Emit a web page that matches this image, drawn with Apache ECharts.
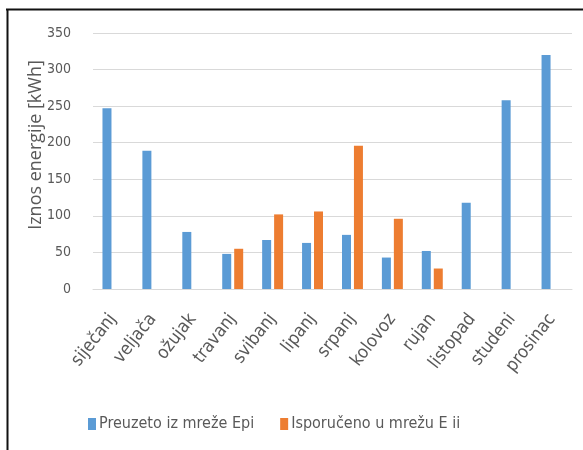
<!DOCTYPE html>
<html>
<head>
<meta charset="utf-8">
<script src="https://cdn.jsdelivr.net/npm/echarts@6/dist/echarts.min.js"></script>
<style>
  html, body { margin: 0; padding: 0; background: #fff; }
  #chart { width: 583px; height: 450px; }
</style>
</head>
<body>
<div id="chart"></div>
<script>
// Monthly energy exchange with the grid, kWh
const months = ['siječanj', 'veljača', 'ožujak', 'travanj', 'svibanj', 'lipanj',
                'srpanj', 'kolovoz', 'rujan', 'listopad', 'studeni', 'prosinac'];
const preuzeto = [247, 189, 78, 48, 67, 63, 74, 43, 52, 118, 258, 320];
const isporuceno = [null, null, null, 55, 102, 106, 196, 96, 28, null, null, null];
const seriesNames = ['Preuzeto iz mreže Epi', 'Isporučeno u mrežu E ii'];
const yTitle = 'Iznos energije [kWh]';

const textColor = '#595959';
const narrow = '"DejaVu Sans Condensed", "Liberation Sans Narrow", sans-serif';

const chart = echarts.init(document.getElementById('chart'), null, { renderer: 'canvas' });

chart.setOption({
  animation: false,
  backgroundColor: '#ffffff',
  color: ['#5b9bd5', '#ed7d31'],
  grid: { left: 93, right: 11, top: 33, bottom: 161, containLabel: false },
  legend: {
    left: 83,
    top: 411,
    itemWidth: 8,
    itemHeight: 12,
    itemGap: 26,
    icon: 'rect',
    textStyle: { color: textColor, fontSize: 16, fontFamily: narrow, padding: [0, 0, 0, -2] },
    data: seriesNames
  },
  xAxis: {
    type: 'category',
    data: months,
    axisLine: { lineStyle: { color: '#d9d9d9', width: 1 } },
    axisTick: { show: false },
    axisLabel: {
      color: textColor,
      fontSize: 18,
      fontFamily: narrow,
      rotate: 52,
      margin: 27,
      interval: 0
    }
  },
  yAxis: {
    type: 'value',
    min: 0,
    max: 350,
    interval: 50,
    axisLine: { show: false },
    axisTick: { show: false },
    axisLabel: { color: textColor, fontSize: 14, fontFamily: narrow, margin: 22 },
    splitLine: { lineStyle: { color: '#d9d9d9', width: 1 } }
  },
  series: [
    {
      name: seriesNames[0],
      type: 'bar',
      data: preuzeto,
      barWidth: 9,
      barGap: '33%'
    },
    {
      name: seriesNames[1],
      type: 'bar',
      data: isporuceno,
      barWidth: 9,
      barGap: '33%'
    }
  ],
  graphic: [
    // chart frame (left and top edges)
    { type: 'line', shape: { x1: 6, y1: 9.5, x2: 583, y2: 9.5 }, style: { stroke: '#111', lineWidth: 2 } },
    { type: 'line', shape: { x1: 7.5, y1: 9, x2: 7.5, y2: 450 }, style: { stroke: '#111', lineWidth: 2 } },
    // vertical axis title
    {
      type: 'text',
      x: 36,
      y: 145,
      rotation: Math.PI / 2,
      style: {
        text: yTitle,
        fill: textColor,
        fontSize: 18,
        fontFamily: '"Open Sans", sans-serif',
        align: 'center',
        verticalAlign: 'middle'
      }
    }
  ]
});
</script>
</body>
</html>
